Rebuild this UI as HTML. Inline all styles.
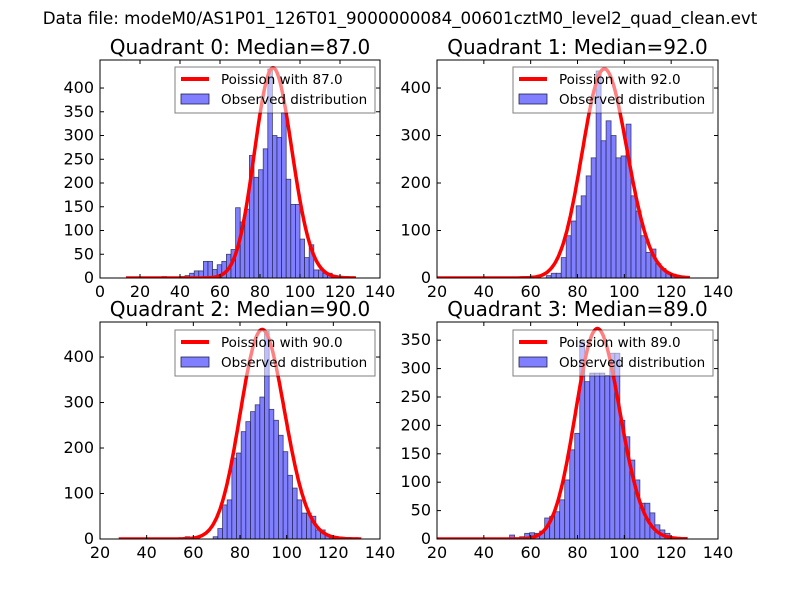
<!DOCTYPE html>
<html><head><meta charset="utf-8"><style>
body{margin:0;background:#fff;}
svg{display:block;font-family:"DejaVu Sans","Liberation Sans",sans-serif;}
</style></head><body>
<svg id="fig" width="800" height="600" viewBox="0 0 800 600">
<rect width="800" height="600" fill="#fff"/>
<text x="400" y="24" font-size="16.7" text-anchor="middle">Data file: modeM0/AS1P01_126T01_9000000084_00601cztM0_level2_quad_clean.evt</text>
</svg>
<script>
// Quadrant 0
const q0Start = 12.6, q0Width = 2.3;
const q0Counts = [0,0,1,0,0,0,0,0,3,0,1,2,3,5,10,15,15,35,35,18,28,35,50,60,148,118,145,258,212,228,272,440,300,296,348,208,155,155,82,43,70,17,17,10,10,3,1,0,0,0];
const q0Median = 87.0, q0Peak = 442;
const q0XTicks = [0,20,40,60,80,100,120,140];
const q0YTicks = [0,50,100,150,200,250,300,350,400];
// Quadrant 1
const q1Start = 56.0, q1Width = 2.13;
const q1Counts = [3,0,0,0,0,5,10,10,43,89,120,152,173,215,253,436,289,331,300,253,257,324,173,141,89,54,61,30,20,12,8,4,2];
const q1Median = 92.0, q1Peak = 440;
const q1XTicks = [20,40,60,80,100,120,140];
const q1YTicks = [0,100,200,300,400];
// Quadrant 2
const q2Start = 56.5, q2Width = 2.0;
const q2Counts = [5,0,0,0,0,0,5,23,75,86,178,189,236,258,280,295,312,456,285,261,228,192,140,112,86,57,57,50,20,20,8,3];
const q2Median = 90.0, q2Peak = 460;
const q2XTicks = [20,40,60,80,100,120,140];
const q2YTicks = [0,100,200,300,400];
// Quadrant 3
const q3Start = 51.0, q3Width = 2.14;
const q3Counts = [7,0,4,10,11,10,14,37,40,48,69,104,157,186,347,277,292,292,292,288,327,327,209,180,139,104,63,63,46,25,16,10,3];
const q3Median = 89.0, q3Peak = 370;
const q3XTicks = [20,40,60,80,100,120,140];
const q3YTicks = [0,50,100,150,200,250,300,350];

const NS = "http://www.w3.org/2000/svg";
const fig = document.getElementById('fig');
function mk(tag, attrs, parent){
  const e = document.createElementNS(NS, tag);
  for (const k in attrs) e.setAttribute(k, attrs[k]);
  (parent||fig).appendChild(e); return e;
}
function lgamma(z){
  if (z < 7){ let p=1; while(z<7){p*=z;z+=1;} return lgamma(z)-Math.log(p); }
  return (z-0.5)*Math.log(z)-z+0.5*Math.log(2*Math.PI)+1/(12*z)-1/(360*z*z*z);
}
function logPois(k, lam){ return k*Math.log(lam)-lam-lgamma(k+1); }

function panel(cfg){
  const {L,T,W,H,xmin,xmax,ymax,start,width,counts,median,peak,xticks,yticks,title,cx0,cx1,legX,legY,idx} = cfg;
  const g = mk('g', {});
  
  
  const X = v => L + (v - xmin) / (xmax - xmin) * W;
  const Y = v => T + H - v / ymax * H;
  const clipId = 'clip' + idx;
  const cp = mk('clipPath', {id: clipId}, g);
  mk('rect', {x:L, y:T, width:W, height:H}, cp);
  const plot = mk('g', {'clip-path': 'url(#' + clipId + ')'}, g);
  counts.forEach((c, i) => {
    if (c <= 0) return;
    const x0 = X(start + i*width), x1 = X(start + (i+1)*width);
    const r = mk('rect', {x:x0, y:Y(c), width:x1-x0, height:Y(0)-Y(c), fill:'#7f7fff', stroke:'#20204a', 'stroke-width':0.8, 'stroke-opacity':0.8}, plot);
    
    
  });
  const lmax = logPois(median, median);
  let pts = [];
  for (let k = cx0; k <= cx1; k += 0.5){
    const v = peak * Math.exp(logPois(k, median) - lmax);
    pts.push(X(k).toFixed(1) + ',' + Y(v).toFixed(1));
  }
  const pl = mk('polyline', {points: pts.join(' '), fill:'none', stroke:'#ff0000', 'stroke-width':3.5, 'stroke-linejoin':'round'}, plot);
  
  
  const fr = mk('rect', {x:L, y:T, width:W, height:H, fill:'none', stroke:'#000', 'stroke-width':1}, g);
  
  
  xticks.forEach(t => {
    const x = X(t);
    mk('line', {x1:x, x2:x, y1:T+H, y2:T+H-4, stroke:'#000'}, g);
    mk('line', {x1:x, x2:x, y1:T, y2:T+4, stroke:'#000'}, g);
    const tx = mk('text', {x:x, y:T+H+19, 'font-size':16, 'text-anchor':'middle'}, g);
    tx.textContent = t;
    
    
  });
  yticks.forEach(t => {
    const y = Y(t);
    mk('line', {x1:L, x2:L+4, y1:y, y2:y, stroke:'#000'}, g);
    mk('line', {x1:L+W, x2:L+W-4, y1:y, y2:y, stroke:'#000'}, g);
    const tx = mk('text', {x:L-6, y:y+5, 'font-size':16, 'text-anchor':'end'}, g);
    tx.textContent = t;
    
    
  });
  const tt = mk('text', {x:L+W/2, y:T-6, 'font-size':20, 'text-anchor':'middle'}, g);
  tt.textContent = title;
  
  
  const lg = mk('g', {}, g);
  
  
  mk('rect', {x:legX, y:legY, width:200, height:46, fill:'#fff', 'fill-opacity':0.5, stroke:'#000', 'stroke-opacity':0.5, 'stroke-width':1}, lg);
  mk('line', {x1:legX+6, x2:legX+34, y1:legY+12, y2:legY+12, stroke:'#ff0000', 'stroke-width':4}, lg);
  const l1 = mk('text', {x:legX+46, y:legY+17, 'font-size':13.5}, lg);
  l1.textContent = 'Poission with ' + median.toFixed(1);
  
  
  mk('rect', {x:legX+6, y:legY+27, width:28, height:10, fill:'#7f7fff', stroke:'#20204a', 'stroke-width':0.8}, lg);
  const l2 = mk('text', {x:legX+46, y:legY+37, 'font-size':13.5}, lg);
  l2.textContent = 'Observed distribution';
  
  
}

panel({idx:0,L:100,T:60,W:280,H:218,xmin:0,xmax:140,ymax:459,start:q0Start,width:q0Width,counts:q0Counts,median:q0Median,peak:q0Peak,xticks:q0XTicks,yticks:q0YTicks,title:'Quadrant 0: Median=87.0',cx0:13,cx1:128,legX:175,legY:67});
panel({idx:1,L:437,T:60,W:281,H:218,xmin:20,xmax:140,ymax:459,start:q1Start,width:q1Width,counts:q1Counts,median:q1Median,peak:q1Peak,xticks:q1XTicks,yticks:q1YTicks,title:'Quadrant 1: Median=92.0',cx0:20,cx1:128,legX:513,legY:67});
panel({idx:2,L:100,T:322,W:280,H:217,xmin:20,xmax:140,ymax:477,start:q2Start,width:q2Width,counts:q2Counts,median:q2Median,peak:q2Peak,xticks:q2XTicks,yticks:q2YTicks,title:'Quadrant 2: Median=90.0',cx0:28,cx1:132,legX:175,legY:330});
panel({idx:3,L:437,T:322,W:281,H:217,xmin:20,xmax:140,ymax:382,start:q3Start,width:q3Width,counts:q3Counts,median:q3Median,peak:q3Peak,xticks:q3XTicks,yticks:q3YTicks,title:'Quadrant 3: Median=89.0',cx0:20,cx1:127,legX:513,legY:330});
</script>
</body></html>
